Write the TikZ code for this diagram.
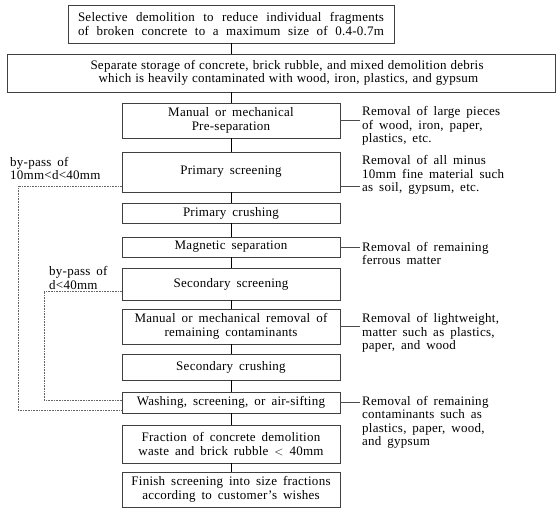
\documentclass[tikz,border=0pt]{standalone}
\usepackage{fontspec}
\setmainfont{Liberation Serif}[LetterSpace=2, WordSpace=1.7]
\begin{document}
\begin{tikzpicture}[x=1pt,y=-1pt,
  every node/.style={font=\fontsize{13}{13.5}\selectfont},
  box/.style={draw=black!75, line width=0.6pt, align=center, inner sep=0pt, minimum width=218pt},
  lab/.style={align=left, anchor=west, inner sep=2pt},
  link/.style={draw=black, line width=0.9pt},
  side/.style={draw=black!70, line width=0.5pt},
  bypass/.style={draw=black!60, line width=0.6pt, densely dotted}]
\useasboundingbox (0,0) rectangle (558,509);
% main column
\node[box, minimum width=326pt, minimum height=38pt] (b1) at (231,24)
  {\makebox[306pt][s]{Selective demolition to reduce individual fragments}\\
   \makebox[306pt][s]{of broken concrete to a maximum size of 0.4-0.7m}};
\node[box, minimum width=548pt, minimum height=38pt] (b2) at (281,73)
  {\makebox[381pt][s]{Separate storage of concrete, brick rubble, and mixed demolition debris}\\
   \makebox[365pt][s]{which is heavily contaminated with wood, iron, plastics, and gypsum}};
\node[box, minimum height=35pt] (b3) at (231,120.5) {Manual or mechanical\\Pre-separation};
\node[box, minimum height=40pt] (b4) at (231,172) {Primary screening};
\node[box, minimum height=20pt] (b5) at (231,213) {Primary crushing};
\node[box, minimum height=20pt] (b6) at (231,247) {Magnetic separation};
\node[box, minimum height=32pt] (b7) at (231,284) {Secondary screening};
\node[box, minimum height=35pt] (b8) at (231,326.5) {Manual or mechanical removal of\\remaining contaminants};
\node[box, minimum height=26pt] (b9) at (231,367) {Secondary crushing};
\node[box, minimum height=21pt] (b10) at (231,402.5) {Washing, screening, or air-sifting};
\node[box, minimum height=38pt] (b11) at (231,444) {Fraction of concrete demolition\\waste and brick rubble $<$ 40mm};
\node[box, minimum height=35pt] (b12) at (231,489.5) {Finish screening into size fractions\\according to customer's wishes};
% connectors
\draw[link] (b1.south) -- (b1.south |- b2.north);
\draw[link] (b3.north |- b2.south) -- (b3.north);
\foreach \a/\b in {b3/b4,b4/b5,b5/b6,b6/b7,b7/b8,b8/b9,b9/b10,b10/b11,b11/b12}
  \draw[link] (\a.south) -- (\b.north);
% side labels
\node[lab] (l1) at (360,126) {Removal of large pieces\\of wood, iron, paper,\\plastics, etc.};
\node[lab] (l2) at (360,175) {Removal of all minus\\10mm fine material such\\as soil, gypsum, etc.};
\node[lab] (l3) at (360,253.5) {Removal of remaining\\ferrous matter};
\node[lab] (l4) at (360,333) {Removal of lightweight,\\matter such as plastics,\\paper, and wood};
\node[lab] (l5) at (360,422.5) {Removal of remaining\\contaminants such as\\plastics, paper, wood,\\and gypsum};
\draw[side] (b3.east) -- (b3.east -| l1.west);
\draw[side] ([yshift=-14pt]b4.east) -- ([yshift=-14pt]b4.east -| l2.west);
\draw[side] (b6.east) -- (b6.east -| l3.west);
\draw[side] (b8.east) -- (b8.east -| l4.west);
\draw[side] (b10.east) -- (b10.east -| l5.west);
% by-pass
\node[lab] (p1) at (8,168.5) {by-pass of\\10mm<d<40mm};
\node[lab] (p2) at (47,278) {by-pass of\\d<40mm};
\coordinate (c1) at (18,186);
\coordinate (c2) at (44,291);
\draw[bypass] ([yshift=-14pt]b4.west) -- (c1) |- ([yshift=-7.5pt]b10.west);
\draw[bypass] ([yshift=-7pt]b7.west) -- (c2) |- ([yshift=2.5pt]b10.west);
\end{tikzpicture}
\end{document}
